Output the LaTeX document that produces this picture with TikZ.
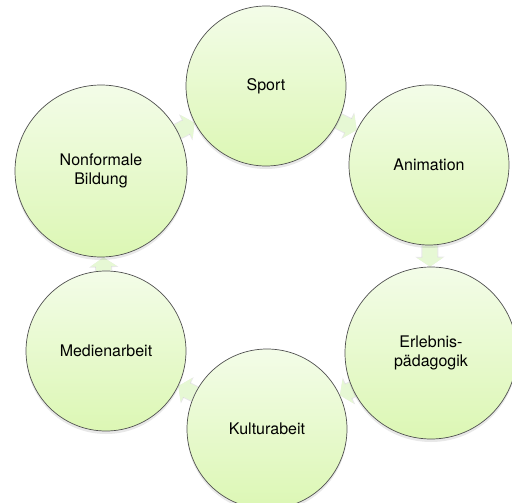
\documentclass[tikz,border=0pt]{standalone}
\usepackage{fontspec}
\setmainfont{TeX Gyre Heros}
\usetikzlibrary{arrows.meta,shadows,backgrounds}
\definecolor{kreisoben}{RGB}{243,252,232}
\definecolor{kreisunten}{RGB}{220,247,180}
\definecolor{rand}{RGB}{80,80,80}
\definecolor{pfeil}{RGB}{230,248,212}
\tikzset{
  kreis/.style={circle,minimum size=160pt,inner sep=0pt,draw=rand,line width=0.7pt,
    top color=kreisoben,bottom color=kreisunten,align=center,
    font=\fontsize{16}{19}\selectfont,
    drop shadow={shadow xshift=0pt,shadow yshift=-3pt,opacity=0.18}},
  gross/.style={minimum size=172pt},
  link/.style={draw=pfeil,line width=15pt,-{Triangle[width=26pt,length=9pt]},
    preaction={draw=black!30,opacity=0.3,line width=17pt,-{Triangle[width=29pt,length=10pt]}}}
}

\begin{document}
\begin{tikzpicture}[x=1pt,y=-1pt]
    \useasboundingbox (0,0) rectangle (512,503);
    % Kreise
    \node[kreis] (sport)         at (266,86)  {Sport};
    \node[kreis] (anim)          at (429,165) {Animation};
    \node[kreis,gross] (erleb)   at (431,353) {Erlebnis-\\p\"adagogik};
    \node[kreis] (kultur)        at (267,429) {Kulturabeit};
    \node[kreis] (medien)        at (106,351) {Medienarbeit};
    \node[kreis,gross] (nonform) at (101,171) {Nonformale\\Bildung};
    % Pfeile im Hintergrund
    \begin{scope}[on background layer]
        \draw[link] (sport)   -- (anim);
        \draw[link] (anim)    -- (erleb);
        \draw[link] (erleb)   -- (kultur);
        \draw[link] (kultur)  -- (medien);
        \draw[link] (medien)  -- (nonform);
        \draw[link] (nonform) -- (sport);
    \end{scope}
\end{tikzpicture}
\end{document}
